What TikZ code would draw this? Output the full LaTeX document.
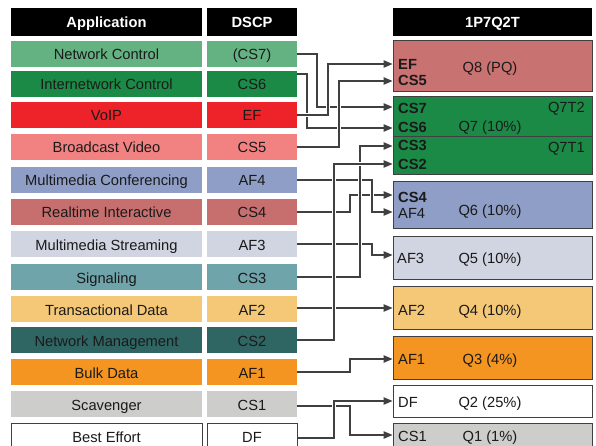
\documentclass[tikz,border=0pt]{standalone}
\usepackage{fontspec}
\setmainfont{Liberation Sans}
\usetikzlibrary{arrows.meta}
\definecolor{cNC}{HTML}{64B282}
\definecolor{cIC}{HTML}{1B8A46}
\definecolor{cVO}{HTML}{EE2229}
\definecolor{cBV}{HTML}{F28282}
\definecolor{cMC}{HTML}{8F9EC6}
\definecolor{cRI}{HTML}{C76E6E}
\definecolor{cMS}{HTML}{D1D5E1}
\definecolor{cSG}{HTML}{6EA4AA}
\definecolor{cTD}{HTML}{F5C877}
\definecolor{cNM}{HTML}{2F6664}
\definecolor{cBD}{HTML}{F39520}
\definecolor{cSC}{HTML}{CDCDCB}
\definecolor{cQ8}{HTML}{C87272}
\definecolor{cLine}{HTML}{404040}
\definecolor{cTxt}{HTML}{1A1A1A}
\newcommand\myfs{\fontsize{14.7pt}{17pt}\selectfont}
\begin{document}
\begin{tikzpicture}[x=1pt,y=-1pt,
  app/.style={rectangle, inner sep=0pt, minimum width=191pt, minimum height=26pt,
    text height=12pt, text depth=0pt, font=\myfs, text=cTxt},
  dscp/.style={app, minimum width=90pt},
  hdr/.style={rectangle, fill=black, inner sep=0pt, minimum height=28pt,
    text height=10.6pt, text depth=0pt, text=white, font=\myfs\bfseries},
  qbox/.style={rectangle, draw=cLine, line width=1pt, inner sep=0pt, minimum width=199pt},
  lab/.style={inner sep=0pt, font=\myfs, text=cTxt, anchor=base west},
  blab/.style={lab, font=\myfs\bfseries},
  qlab/.style={inner sep=0pt, font=\myfs, text=cTxt, anchor=base},
  conn/.style={draw=cLine, line width=1.1pt, -{Triangle[length=9pt,width=7.5pt]},
    preaction={draw=white, line width=3.5pt, -, shorten >=1.5pt}}
]
\useasboundingbox[fill=white] (0,0) rectangle (596,446);

% headers
\node[hdr, minimum width=191pt] (hApp) at (106.5,22) {Application};
\node[hdr, minimum width=90pt] (hDscp) at (252,22) {DSCP};
\node[hdr, minimum width=199pt] (hQ) at (492.5,22) {1P7Q2T};

% left rows
\node[app, fill=cNC] (a0) at (106.5,54) {Network Control};
\node[dscp, fill=cNC] (d0) at (252,54) {(CS7)};
\node[app, fill=cIC] (a1) at (106.5,84) {Internetwork Control};
\node[dscp, fill=cIC] (d1) at (252,84) {CS6};
\node[app, fill=cVO] (a2) at (106.5,115) {VoIP};
\node[dscp, fill=cVO] (d2) at (252,115) {EF};
\node[app, fill=cBV] (a3) at (106.5,147) {Broadcast Video};
\node[dscp, fill=cBV] (d3) at (252,147) {CS5};
\node[app, fill=cMC] (a4) at (106.5,180) {Multimedia Conferencing};
\node[dscp, fill=cMC] (d4) at (252,180) {AF4};
\node[app, fill=cRI] (a5) at (106.5,212) {Realtime Interactive};
\node[dscp, fill=cRI] (d5) at (252,212) {CS4};
\node[app, fill=cMS] (a6) at (106.5,244) {Multimedia Streaming};
\node[dscp, fill=cMS] (d6) at (252,244) {AF3};
\node[app, fill=cSG] (a7) at (106.5,277) {Signaling};
\node[dscp, fill=cSG] (d7) at (252,277) {CS3};
\node[app, fill=cTD] (a8) at (106.5,309) {Transactional Data};
\node[dscp, fill=cTD] (d8) at (252,309) {AF2};
\node[app, fill=cNM] (a9) at (106.5,340) {Network Management};
\node[dscp, fill=cNM] (d9) at (252,340) {CS2};
\node[app, fill=cBD] (a10) at (106.5,372) {Bulk Data};
\node[dscp, fill=cBD] (d10) at (252,372) {AF1};
\node[app, fill=cSC] (a11) at (106.5,404) {Scavenger};
\node[dscp, fill=cSC] (d11) at (252,404) {CS1};
\node[app, fill=white, draw=cLine, line width=1pt] (a12) at (106.5,436) {Best Effort};
\node[dscp, fill=white, draw=cLine, line width=1pt] (d12) at (252,436) {DF};

% right queue boxes
\node[qbox, fill=cQ8, minimum height=51pt] (q8) at (492.5,66.5) {};
\node[qbox, fill=cIC, minimum height=78pt] (q7) at (492.5,136) {};
\draw[draw=cLine, line width=1pt] (q7.west |- 0,137) -- (q7.east |- 0,137);
\node[qbox, fill=cMC, minimum height=46pt] (q6) at (492.5,205) {};
\node[qbox, fill=cMS, minimum height=43pt] (q5) at (492.5,257.5) {};
\node[qbox, fill=cTD, minimum height=43pt] (q4) at (492.5,307.5) {};
\node[qbox, fill=cBD, minimum height=43pt] (q3) at (492.5,357.5) {};
\node[qbox, fill=white, minimum height=32pt] (q2) at (492.5,401) {};
\node[qbox, fill=cSC, minimum height=30pt] (q1) at (492.5,438) {};

% queue labels
\node[blab] (l8a) at (398,69.5) {EF};
\node[blab] (l8b) at (398,86) {CS5};
\node[qlab] (l8q) at (490,73) {Q8 (PQ)};
\node[blab] (l7a) at (398,114) {CS7};
\node[blab] (l7b) at (398,132.5) {CS6};
\node[qlab] (l7q) at (490,131.5) {Q7 (10\%)};
\node[qlab, anchor=base east] (l7t2) at (585,112.5) {Q7T2};
\node[blab] (l7c) at (398,150.7) {CS3};
\node[blab] (l7d) at (398,169.3) {CS2};
\node[qlab, anchor=base east] (l7t1) at (585,152.5) {Q7T1};
\node[blab] (l6a) at (398,202.7) {CS4};
\node[lab] (l6b) at (398,218.3) {AF4};
\node[qlab] (l6q) at (490,215) {Q6 (10\%)};
\node[lab] (l5a) at (397,263) {AF3};
\node[qlab] (l5q) at (490,263) {Q5 (10\%)};
\node[lab] (l4a) at (398,315) {AF2};
\node[qlab] (l4q) at (490,315) {Q4 (10\%)};
\node[lab] (l3a) at (398,364) {AF1};
\node[qlab] (l3q) at (490,364) {Q3 (4\%)};
\node[lab] (l2a) at (398,407.3) {DF};
\node[qlab] (l2q) at (490,407.3) {Q2 (25\%)};
\node[lab] (l1a) at (398,441.5) {CS1};
\node[qlab] (l1q) at (490,441.5) {Q1 (1\%)};

% connectors
\draw[conn] (d0.east) -- (317,54) -- (317,107) -- (q7.west |- 0,107);
\draw[conn] ([yshift=10pt]d1.east) -- (307,74) -- (307,128) -- (q7.west |- 0,128);
\draw[conn] (d2.east) -- (328,115) -- (328,64) -- (q8.west |- 0,64);
\draw[conn] (d3.east) -- (339,147) -- (339,81) -- (q8.west |- 0,81);
\draw[conn] (d5.east) -- (350,212) -- (350,195) -- (q6.west |- 0,195);
\draw[conn] (d4.east) -- (372,180) -- (372,212) -- (q6.west |- 0,212);
\draw[conn] (d6.east) -- (372,244) -- (372,255) -- (q5.west |- 0,255);
\draw[conn] ([yshift=1pt]d8.east) -- (q4.west |- 0,308);
\draw[conn] (d10.east) -- (350,372) -- (350,359) -- (q3.west |- 0,359);
\draw[conn] ([yshift=-2pt]d11.east) -- (350,406) -- (350,435) -- (q1.west |- 0,435);
\draw[conn] (d7.east) -- (360,277) -- (360,146) -- (q7.west |- 0,146);
\draw[conn] (d9.east) -- (334,340) -- (334,164) -- (q7.west |- 0,164);
\draw[conn] ([yshift=-2pt]d12.east) -- (334,438) -- (334,401) -- (q2.west |- 0,401);
\end{tikzpicture}
\end{document}
